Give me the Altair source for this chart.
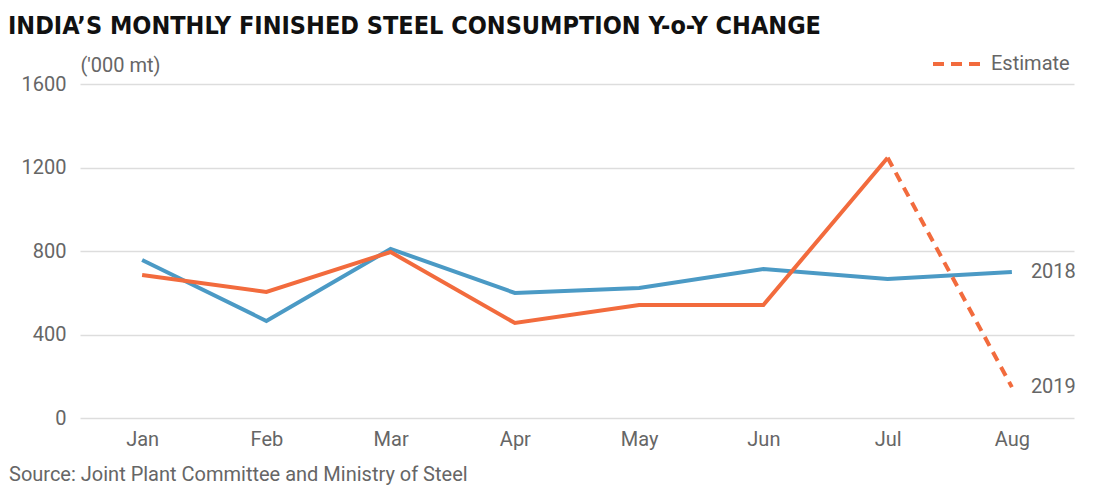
import altair as alt
import pandas as pd

months = ["Jan", "Feb", "Mar", "Apr", "May", "Jun", "Jul", "Aug"]
y2018 = [757, 465, 810, 599, 623, 714, 666, 699]
y2019 = [685, 604, 795, 455, 541, 541, 1247, 148]
y_ticks = [0, 400, 800, 1200, 1600]

BLUE = "#4b9ac5"
ORANGE = "#f26b3d"
GRAY = "#666666"
FONT = "Roboto"
FS = 20

W, H = 994, 334

blue_df = pd.DataFrame({"month": months, "value": y2018})
solid_df = pd.DataFrame({"month": months[:7], "value": y2019[:7]})
dash_df = pd.DataFrame({"month": months[6:], "value": y2019[6:]})
end_df = pd.DataFrame({"month": [months[-1], months[-1]],
                       "value": [y2018[-1], y2019[-1]],
                       "label": ["2018", "2019"]})

x = alt.X("month:N", sort=months, title=None,
          scale=alt.Scale(type="point", padding=0.5, domain=months),
          axis=alt.Axis(labelFont=FONT, labelFontSize=FS, labelColor=GRAY,
                        labelPadding=11, ticks=False, domain=False, grid=False,
                        labelAngle=0))
y = alt.Y("value:Q", scale=alt.Scale(domain=[0, 1600], nice=False),
          axis=alt.Axis(values=y_ticks, format="d", title="('000 mt)", titleAngle=0,
                        titleAlign="left", titleBaseline="bottom",
                        titleX=0, titleY=-9, titleFont=FONT,
                        titleFontSize=FS, titleFontWeight="normal",
                        titleColor=GRAY, labelFont=FONT, labelFontSize=FS,
                        labelColor=GRAY, labelPadding=14, ticks=False,
                        domain=False, grid=True, gridColor="#dddddd",
                        gridWidth=1.5))

blue = alt.Chart(blue_df).mark_line(color=BLUE, strokeWidth=4).encode(x=x, y=y)
solid = alt.Chart(solid_df).mark_line(color=ORANGE, strokeWidth=4).encode(x=x, y=y)
dash = alt.Chart(dash_df).mark_line(color=ORANGE, strokeWidth=4,
                                    strokeDash=[10, 7]).encode(x=x, y=y)
labels = alt.Chart(end_df).mark_text(align="left", baseline="middle", dx=19,
                                     font=FONT, fontSize=FS, color=GRAY).encode(
    x=x, y=y, text="label:N")

legend_line = alt.Chart(pd.DataFrame({"k": [0]})).mark_rule(
    color=ORANGE, strokeWidth=4, strokeDash=[11, 7]).encode(
    x=alt.value(853), x2=alt.value(900), y=alt.value(-20))
legend_text = alt.Chart(pd.DataFrame({"k": [0]})).mark_text(
    align="left", baseline="middle", font=FONT, fontSize=FS, color=GRAY,
    text="Estimate").encode(x=alt.value(911), y=alt.value(-20))
source = alt.Chart(pd.DataFrame({"k": [0]})).mark_text(
    align="left", baseline="middle", font=FONT, fontSize=FS, color=GRAY,
    text="Source: Joint Plant Committee and Ministry of Steel").encode(
    x=alt.value(-71), y=alt.value(H + 57))

chart = alt.layer(blue, solid, dash, labels, legend_line, legend_text, source).properties(
    width=W, height=H,
    title=alt.TitleParams("INDIA\u2019S MONTHLY FINISHED STEEL CONSUMPTION Y-o-Y CHANGE",
                          anchor="start", frame="group", dx=-72,
                          font="DejaVu Sans Condensed", fontSize=25,
                          fontWeight="bold", color="#111111", offset=15),
    autosize=alt.AutoSizeParams(type="none"),
    padding={"left": 72, "top": 76, "right": 12, "bottom": 70},
).configure_view(stroke=None)

chart.save("out.html", embed_options={"renderer": "svg", "actions": False})
